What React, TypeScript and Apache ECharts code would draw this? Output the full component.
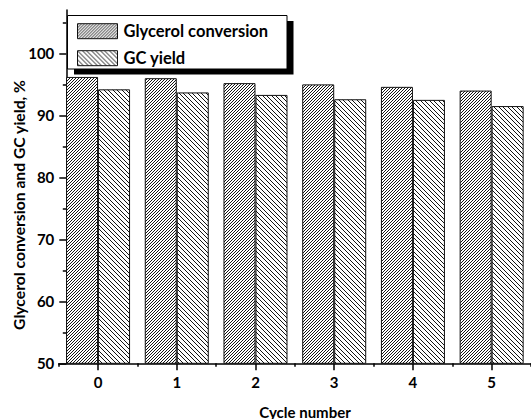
import React, { useEffect, useRef } from 'react';
import * as echarts from 'echarts';

const categories = ['0', '1', '2', '3', '4', '5'];
const seriesNames = ['Glycerol conversion', 'GC yield'];
const conversion = [96.2, 96.0, 95.2, 95.0, 94.6, 94.0];
const gcYield = [94.2, 93.7, 93.3, 92.6, 92.5, 91.5];
const yMajorTicks = [50, 60, 70, 80, 90, 100];
const yMinorTicks = [55, 65, 75, 85, 95, 105];
const yTitle = 'Glycerol conversion and GC yield, %';
const xTitle = 'Cycle number';

const FONT = 'Lato';

function makeHatch(size: number, marks: number[], forward: boolean) {
  const c = document.createElement('canvas');
  c.width = size;
  c.height = size;
  const ctx = c.getContext('2d')!;
  const img = ctx.createImageData(size, size);
  for (let y = 0; y < size; y++) {
    for (let x = 0; x < size; x++) {
      const k = forward ? (x + y) % size : (x - y + size * 10) % size;
      const on = marks.indexOf(k) >= 0;
      const i = (y * size + x) * 4;
      const v = on ? 20 : 255;
      img.data[i] = v;
      img.data[i + 1] = v;
      img.data[i + 2] = v;
      img.data[i + 3] = 255;
    }
  }
  ctx.putImageData(img, 0, 0);
  return c;
}

export default function App() {
  const ref = useRef<HTMLDivElement>(null);
  useEffect(() => {
    document.body.style.margin = '0';
    const chart = echarts.init(ref.current!, undefined, { renderer: 'svg' });
    const hatchFwd = makeHatch(3, [0], true);
    const hatchBack = makeHatch(9, [0, 5], false);
    const axisLine = { color: '#000', width: 1.5 };
    const labelStyle = { color: '#000', fontFamily: FONT, fontWeight: 'bold' as const, fontSize: 15 };
    const option: any = {
      animation: false,
      backgroundColor: '#fff',
      grid: [
        { left: 58.7, top: 10, width: 475.2, height: 353.3 },
        { left: 66.3, top: 10, width: 400, height: 353.3 },
      ],
      legend: {
        data: seriesNames,
        orient: 'vertical',
        left: 77,
        top: 22.7,
        padding: 0,
        itemWidth: 40,
        itemHeight: 15,
        itemGap: 10,
        icon: 'rect',
        z: 10,
        textStyle: { color: '#000', fontFamily: FONT, fontWeight: 'bold', fontSize: 16.5, lineHeight: 15, height: 15, padding: [1, 0, 0, 1] },
        itemStyle: { borderColor: '#111', borderWidth: 1 },
      },
      xAxis: [
        {
          type: 'category',
          gridIndex: 0,
          position: 'bottom',
          data: categories,
          axisLine: { show: true, lineStyle: axisLine },
          axisTick: { show: true, alignWithLabel: true, length: 7, lineStyle: axisLine },
          axisLabel: { ...labelStyle, margin: 11 },
          splitLine: { show: false },
        },
        {
          type: 'category',
          gridIndex: 0,
          position: 'bottom',
          data: categories,
          axisLine: { show: false },
          axisTick: { show: true, length: 3.5, lineStyle: axisLine },
          axisLabel: { show: false },
          splitLine: { show: false },
        },
        { type: 'value', gridIndex: 1, show: false },
      ],
      yAxis: [
        { type: 'value', gridIndex: 0, min: 50, max: 107, show: false },
        {
          type: 'value',
          gridIndex: 1,
          position: 'left',
          min: 50,
          max: 107,
          axisLine: { show: true, lineStyle: axisLine },
          axisTick: { show: true, length: 7, lineStyle: axisLine, customValues: yMajorTicks },
          axisLabel: { ...labelStyle, margin: 12, customValues: yMajorTicks },
          splitLine: { show: false },
        },
        {
          type: 'value',
          gridIndex: 1,
          position: 'left',
          min: 50,
          max: 107,
          axisLine: { show: false },
          axisTick: { show: true, length: 3.5, lineStyle: axisLine, customValues: yMinorTicks },
          axisLabel: { show: false },
          splitLine: { show: false },
        },
      ],
      series: [
        {
          type: 'bar',
          name: seriesNames[0],
          xAxisIndex: 0,
          yAxisIndex: 0,
          data: conversion,
          barWidth: 32,
          barGap: '0%',
          itemStyle: { color: { image: hatchFwd, repeat: 'repeat' }, borderColor: '#111', borderWidth: 1 },
        },
        {
          type: 'bar',
          name: seriesNames[1],
          xAxisIndex: 0,
          yAxisIndex: 0,
          data: gcYield,
          barWidth: 32,
          barGap: '0%',
          itemStyle: { color: { image: hatchBack, repeat: 'repeat' }, borderColor: '#111', borderWidth: 1 },
        },
      ],
      graphic: [
        { type: 'rect', z: 1, shape: { x: 74, y: 21, width: 219.5, height: 53.5 }, style: { fill: '#000' } },
        { type: 'rect', z: 2, shape: { x: 67.5, y: 15.5, width: 219.5, height: 53.5 }, style: { fill: '#fff', stroke: '#000', lineWidth: 1 } },
        {
          type: 'text',
          x: 19,
          y: 205,
          rotation: Math.PI / 2,
          style: { text: yTitle, fill: '#000', fontFamily: FONT, fontWeight: 'bold', fontSize: 15.7, textAlign: 'center', textVerticalAlign: 'middle', verticalAlign: 'middle' },
        },
        {
          type: 'text',
          x: 305,
          y: 412,
          style: { text: xTitle, fill: '#000', fontFamily: FONT, fontWeight: 'bold', fontSize: 15, textAlign: 'center', textVerticalAlign: 'middle', verticalAlign: 'middle' },
        },
      ],
    };
    chart.setOption(option);
    return () => chart.dispose();
  }, []);
  return <div ref={ref} style={{ width: 531, height: 419 }} />;
}
